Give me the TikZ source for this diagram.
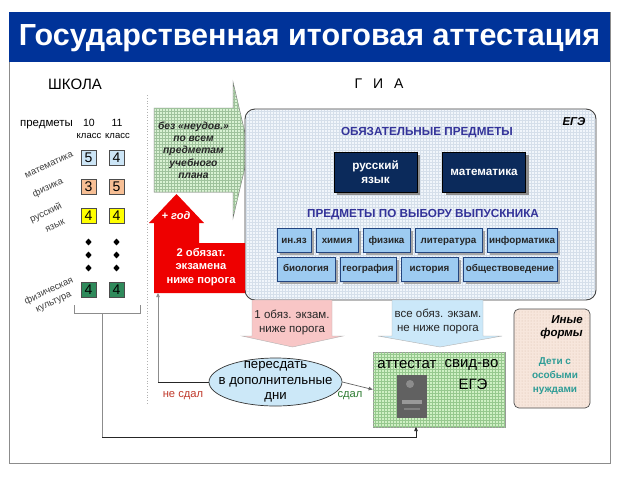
\documentclass[tikz,border=0pt]{standalone}
\usepackage{fontspec}
\setmainfont{Liberation Sans}
\usetikzlibrary{shapes.geometric,patterns,shadows,arrows.meta}
\definecolor{titleblue}{HTML}{003399}
\definecolor{framegray}{HTML}{8C8C8C}
\definecolor{gblue}{HTML}{CCE5F6}
\definecolor{gpeach}{HTML}{F7BF95}
\definecolor{gyellow}{HTML}{FFFF00}
\definecolor{ggreen}{HTML}{2F8A5B}
\definecolor{arrgreen}{HTML}{D9F2D3}
\definecolor{arrgreengrid}{HTML}{9FC29C}
\definecolor{redarr}{HTML}{EE0000}
\definecolor{egebg}{HTML}{F1F6FB}
\definecolor{egegrid}{HTML}{D5DFEA}
\definecolor{navy}{HTML}{0B2A5B}
\definecolor{choice}{HTML}{9DCBF1}
\definecolor{choiceborder}{HTML}{23457F}
\definecolor{headblue}{HTML}{333399}
\definecolor{pinkarr}{HTML}{F8C6C6}
\definecolor{bluearr}{HTML}{CBE8F9}
\definecolor{ellfill}{HTML}{CCE8F8}
\definecolor{certbg}{HTML}{CFF0C4}
\definecolor{certgrid}{HTML}{96C88E}
\definecolor{otherbg}{HTML}{F7E6DC}
\definecolor{othergrid}{HTML}{D6BBAA}
\definecolor{tealtext}{HTML}{2E9C96}
\definecolor{failred}{HTML}{C0392B}
\definecolor{passgreen}{HTML}{2E7D32}
\begin{document}
\begin{tikzpicture}[x=1pt,y=-1pt,
 gbox/.style={draw=black!70, minimum width=15pt, minimum height=15pt, inner sep=0pt, font=\fontsize{14}{14}\selectfont},
 subj/.style={rotate=25, text=black!75, font=\fontsize{9.5}{10}\selectfont, inner sep=0pt},
 dotm/.style={diamond, fill=black, minimum width=6.5pt, minimum height=7pt, inner sep=0pt},
 navybox/.style={draw=black, fill=navy, text=white, minimum width=83pt, minimum height=40pt, font=\fontsize{11.7}{14}\selectfont\bfseries, align=center, drop shadow={shadow xshift=3pt, shadow yshift=-3pt, fill=black!45, opacity=1}},
 chbox/.style={draw=choiceborder, fill=choice, minimum height=24pt, inner sep=0pt, text height=7.5pt, text depth=2.2pt, font=\fontsize{9.8}{10}\selectfont\bfseries, text=black!85, drop shadow={shadow xshift=2.5pt, shadow yshift=-2.5pt, fill=black!35, opacity=1}},
 hdr/.style={text=headblue, font=\fontsize{11.7}{13}\selectfont\bfseries},
 conn/.style={draw=black!85, line width=0.7pt},
 lconn/.style={draw=black!45, line width=0.7pt},
 tip/.style={-{Triangle[length=4pt,width=3.5pt]}},
 plain/.style={inner sep=0pt, align=center},
]
\useasboundingbox (0,0) rectangle (619,480);
\fill[white] (0,0) rectangle (619,480);
% frame and title
\draw[framegray, line width=1pt] (9,12) rectangle (610,463);
\fill[titleblue] (9,12) rectangle (610,62);
\node[plain, text=white, font=\fontsize{30.5}{32}\selectfont\bfseries] (title) at (309.5,38) {Государственная итоговая аттестация};
\node[plain, font=\fontsize{15}{16}\selectfont] (school) at (75,84) {ШКОЛА};
\node[plain, font=\fontsize{14}{16}\selectfont] (gia) at (379,84) {Г\,\,\, И\,\,\, А};
% separator
\draw[black!30, dotted, line width=0.8pt] (147,95) -- (147,405);
% school table
\node[plain, font=\fontsize{11.5}{12}\selectfont] (predm) at (46.5,125) {предметы};
\node[plain, font=\fontsize{10.5}{11}\selectfont] (c10) at (89,123) {10};
\node[plain, font=\fontsize{10.5}{11}\selectfont] (c11) at (117,123) {11};
\node[plain, font=\fontsize{9.5}{10}\selectfont] (k10) at (89,136) {класс};
\node[plain, font=\fontsize{9.5}{10}\selectfont] (k11) at (117.5,136) {класс};
\node[gbox, fill=gblue] (m10) at (88.5,157.5) {5};
\node[gbox, fill=gblue] (m11) at (116.5,157.5) {4};
\node[gbox, fill=gpeach] (f10) at (88.5,187) {3};
\node[gbox, fill=gpeach] (f11) at (116.5,187) {5};
\node[gbox, fill=gyellow] (r10) at (88.5,216) {4};
\node[gbox, fill=gyellow] (r11) at (116.5,216) {4};
\node[gbox, fill=ggreen] (p10) at (88.5,290) {4};
\node[gbox, fill=ggreen] (p11) at (116.5,290) {4};
\foreach \yy [count=\i] in {242,255,268} {
  \node[dotm] (da\i) at (88.5,\yy) {};
  \node[dotm] (db\i) at (116.5,\yy) {};
}
\node[subj] (lm) at (49,165) {математика};
\node[subj] (lf) at (48,188) {физика};
\node[subj] (lr1) at (46,213) {русский};
\node[subj] (lr2) at (55,226) {язык};
\node[subj] (lp1) at (49,291) {физическая};
\node[subj] (lp2) at (54,303) {культура};
% bracket
\coordinate (bl) at (74,305);
\coordinate (br) at (140,305);
\coordinate (bmid) at (102,313);
\draw[lconn] (bl) -- (74,313) -- (140,313) -- (br);
% green arrow
\draw[black!55, line width=0.5pt, fill=arrgreen] (154,108) -- (233,108) -- (233,82) -- (249,150) -- (233,218) -- (233,192) -- (154,192) -- cycle;
\fill[pattern=grid, pattern color=arrgreengrid] (154,108) -- (233,108) -- (233,82) -- (249,150) -- (233,218) -- (233,192) -- (154,192) -- cycle;
\node[plain, font=\fontsize{10.3}{12.3}\selectfont\bfseries\itshape, text=black!85] (noneud) at (193.5,150) {без «неудов.»\\по всем\\предметам\\учебного\\плана};
% EGE box
\draw[black!75, line width=0.9pt, fill=egebg, rounded corners=10pt] (245,109) rectangle (596,300);
\fill[pattern=grid, pattern color=egegrid, rounded corners=10pt] (246,110) rectangle (595,299);
\node[plain, font=\fontsize{11.5}{12}\selectfont\bfseries\itshape] (ege) at (574,122) {ЕГЭ};
\node[hdr] (oblig) at (427,133) {ОБЯЗАТЕЛЬНЫЕ ПРЕДМЕТЫ};
\node[navybox] (rus) at (375.5,172) {русский\\язык};
\node[navybox] (mat) at (484,172) {математика};
\node[hdr] (choiceh) at (423,215) {ПРЕДМЕТЫ ПО ВЫБОРУ ВЫПУСКНИКА};
\node[chbox, minimum width=34pt] (inyaz) at (294,240.5) {ин.яз};
\node[chbox, minimum width=42pt] (chem) at (337,240.5) {химия};
\node[chbox, minimum width=47pt] (phys) at (386.5,240.5) {физика};
\node[chbox, minimum width=67pt] (lit) at (448.5,240.5) {литература};
\node[chbox, minimum width=70pt] (inf) at (522,240.5) {информатика};
\node[chbox, minimum width=58pt] (bio) at (306,269) {биология};
\node[chbox, minimum width=56pt] (geo) at (368,269) {география};
\node[chbox, minimum width=57pt] (hist) at (429.5,269) {история};
\node[chbox, minimum width=94pt] (soc) at (510,269) {обществоведение};
% red arrow
\fill[redarr] (154,293) -- (154,223) -- (149,223) -- (176.5,194) -- (204,223) -- (199,223) -- (199,243) -- (245,243) -- (245,293) -- cycle;
\node[plain, text=white, font=\fontsize{11}{12}\selectfont\bfseries\itshape] (plusyear) at (176,216) {+ год};
\node[plain, text=white, font=\fontsize{11.2}{13.6}\selectfont\bfseries] (twoexam) at (201,267) {2 обязат.\\экзамена\\ниже порога};
\coordinate (redbot) at (158,293);
% pink and blue arrows
\draw[black!30, line width=0.4pt, fill=pinkarr] (252,300) -- (332,300) -- (332,336) -- (343,336) -- (292.5,347) -- (242,336) -- (252,336) -- cycle;
\node[plain, font=\fontsize{11.5}{14}\selectfont, text=black!85] (oneexam) at (292,322) {1 обяз. экзам.\\ниже порога};
\draw[black!30, line width=0.4pt, fill=bluearr] (392,300) -- (483,300) -- (483,336) -- (502,336) -- (440,347) -- (378,336) -- (392,336) -- cycle;
\node[plain, font=\fontsize{11.5}{14}\selectfont, text=black!85] (allexam) at (438,321) {все обяз. экзам.\\не ниже порога};
% retake ellipse
\node[ellipse, draw=black!80, line width=0.7pt, fill=ellfill, minimum width=133pt, minimum height=48pt, inner sep=0pt] (retake) at (275.5,382) {};
\node[plain, font=\fontsize{13.2}{15.5}\selectfont] (retaketext) at (retake.center) {пересдать\\в дополнительные\\дни};
% certificate box
\node[draw=black!40, line width=0.6pt, fill=certbg, postaction={pattern=grid, pattern color=certgrid}, minimum width=132pt, minimum height=75pt, inner sep=0pt] (cert) at (439,389.5) {};
\node[plain, font=\fontsize{15}{16}\selectfont] (attest) at (407,365) {аттестат};
\node[plain, font=\fontsize{15}{16}\selectfont] (svid) at (471.5,365) {свид-во};
\node[plain, font=\fontsize{15}{16}\selectfont] (egecert) at (473,384) {ЕГЭ};
\fill[black!62] (397,375) rectangle (427,418);
\fill[black!45] (410,384) circle (4pt);
\fill[black!40] (402,400) rectangle (422,404);
\fill[black!50] (404,408) rectangle (420,410);
% other forms box
\draw[black!70, line width=0.7pt, fill=otherbg, rounded corners=5pt] (514,309) rectangle (590,408);
\fill[pattern=dots, pattern color=othergrid, rounded corners=5pt] (515,310) rectangle (589,407);
\node[plain, font=\fontsize{11.5}{13}\selectfont\bfseries\itshape, align=right, anchor=north east] (other) at (583,315) {Иные\\формы};
\node[plain, text=tealtext, font=\fontsize{10}{14}\selectfont\bfseries] (special) at (555,376) {Дети с\\особыми\\нуждами};
% connectors
\coordinate (nsturn) at (158,382);
\draw[conn] (retake.west) -- (nsturn);
\draw[lconn, tip] (nsturn) -- (redbot);
\node[plain, text=failred, font=\fontsize{11.2}{12}\selectfont] (fail) at (183,396) {не сдал};
\draw[lconn, draw=black!60, tip] (retake.east) -- (cert.west);
\node[plain, text=passgreen, font=\fontsize{11.2}{12}\selectfont] (pass) at (350,396) {сдал};
\coordinate (bturn) at (102,437);
\coordinate (cturn) at (416,437);
\coordinate (certin) at (416,427);
\draw[lconn] (bmid) -- (bturn);
\draw[conn, tip] (bturn) -- (cturn) -- (certin);
\end{tikzpicture}
\end{document}
